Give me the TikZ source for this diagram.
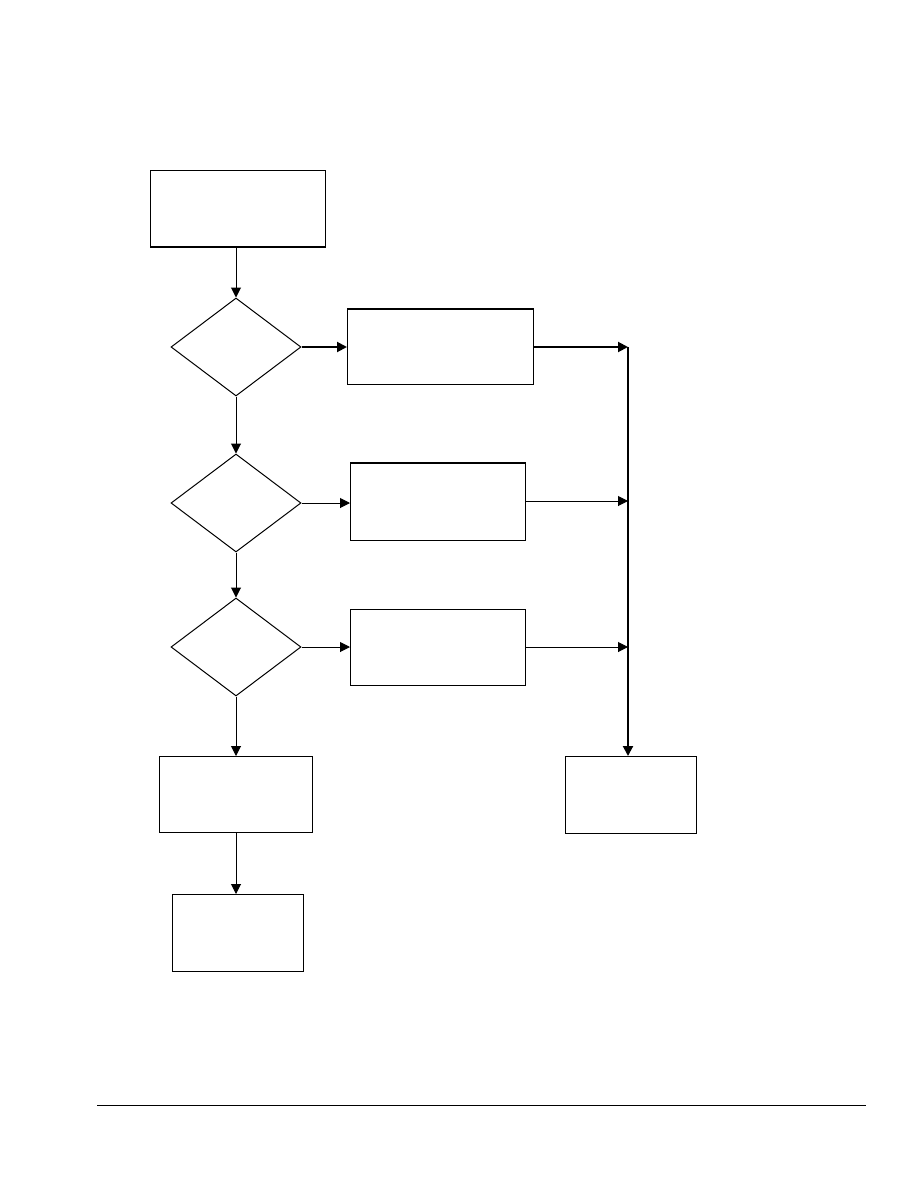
\documentclass[tikz,border=0pt]{standalone}
\usetikzlibrary{shapes.geometric,arrows.meta}
\begin{document}
\begin{tikzpicture}[x=1pt,y=-1pt,
  box/.style={draw,rectangle,line width=1pt,inner sep=0pt,anchor=north west},
  dec/.style={draw,diamond,line width=1pt,inner sep=0pt,minimum width=130pt,minimum height=98pt},
  arr/.style={line width=1pt,-{Triangle[length=10pt,width=10pt]}},
  tarr/.style={line width=2pt,-{Triangle[length=10pt,width=10pt]}}]
\useasboundingbox (0,0) rectangle (918,1188);
% boxes
\node[box,minimum width=175pt,minimum height=76pt] (b1) at (150,170) {};
\draw[line width=2pt] (b1.south west) -- (b1.south east);
\node[box,minimum width=186pt,minimum height=75pt] (b2) at (347,309) {};
\draw[line width=1.6pt] (b2.north west) -- (b2.north east);
\node[box,minimum width=175pt,minimum height=77pt] (b3) at (350,463) {};
\draw[line width=2pt] (b3.north west) -- (b3.north east);
\node[box,minimum width=175pt,minimum height=76pt] (b4) at (350,609) {};
\node[box,minimum width=153pt,minimum height=76pt] (b5) at (159,756) {};
\node[box,minimum width=131pt,minimum height=77pt] (b6) at (172,894) {};
\node[box,minimum width=131pt,minimum height=77pt] (b7) at (565,756) {};
% decisions
\node[dec] (d1) at (236,347) {};
\node[dec] (d2) at (236,503) {};
\node[dec] (d3) at (236,647) {};
% junction coordinates
\coordinate (j1) at (628,347);
\coordinate (j2) at (628,501);
\coordinate (j3) at (628,647);
% main flow
\draw[arr] (b1.south -| d1.north) -- (d1.north);
\draw[arr] (d1.south) -- (d2.north);
\draw[arr] (d2.south) -- (d3.north);
\draw[arr] (d3.south) -- (b5.north -| d3.south);
\draw[arr] (b5.south -| d3.south) -- (b6.north -| d3.south);
% branches
\draw[tarr] (d1.east) -- (d1.east -| b2.west);
\draw[arr] (d2.east) -- (d2.east -| b3.west);
\draw[arr] (d3.east) -- (d3.east -| b4.west);
\draw[tarr] (d1.east -| b2.east) -- (j1);
\draw[arr] (b3.east |- j2) -- (j2);
\draw[arr] (b4.east |- j3) -- (j3);
\draw[tarr] (j1) -- (b7.north -| j1);
% footer rule
\coordinate (fl) at (97,1105);
\coordinate (fr) at (866,1105);
\draw[line width=1pt] (fl) -- (fr);
\end{tikzpicture}
\end{document}
